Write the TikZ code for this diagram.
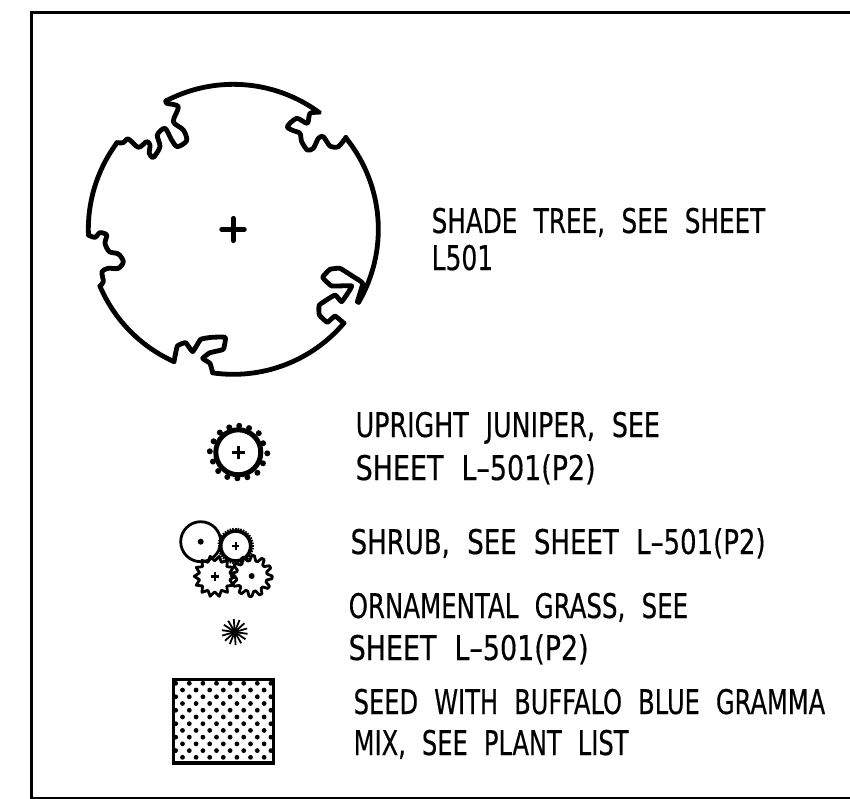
\documentclass[tikz,border=0pt]{standalone}
\usepackage{graphicx}
\usepackage{fontspec}
\newfontfamily\cadfont[FakeStretch=0.78,WordSpace=2.1,FakeBold=0.4]{DejaVu Sans}
\newcommand{\hsc}[2]{\scalebox{#1}[1]{#2}}
\tikzset{
  x=1pt,y=-1pt,
  label text/.style={anchor=base west,inner sep=0pt,font=\cadfont\fontsize{34}{34}\selectfont,text=black},
  tree line/.style={line width=4.8pt,line join=round,line cap=round},
  thin line/.style={line width=2.8pt,line join=round},
  frame line/.style={line width=3pt},
}
\newcommand{\treearc}[2]{plot[domain=#1:#2,samples=50] ({490+435*cos(\x)},{478-435*sin(\x)})}
\newcommand{\gearshape}[5]{% cx cy router rinner teeth
  \draw[thin line] plot[samples at={0,...,\numexpr4*#5-1\relax}] ({#1+(mod(\x,4)<1.5?#3:#4)*cos(\x*90/#5)},{#2+(mod(\x,4)<1.5?#3:#4)*sin(\x*90/#5)}) -- cycle;}
\newcommand{\starshape}[5]{% cx cy router rinner teeth
  \draw[thin line] plot[samples at={0,...,\numexpr2*#5-1\relax}] ({#1+(mod(\x,2)<0.5?#3:#4)*cos(\x*180/#5)},{#2+(mod(\x,2)<0.5?#3:#4)*sin(\x*180/#5)}) -- cycle;}
\begin{document}
\begin{tikzpicture}
\useasboundingbox (0,0) rectangle (850,799);
\fill[white] (0,0) rectangle (850,799);
\draw[frame line] (850,12.5) -- (31.5,12.5) -- (31.5,798) -- (850,798);
% tree
\begin{scope}[shift={(70,70)},x=0.33333pt,y=-0.33333pt,tree line]
\draw \treearc{117.6}{53.7}
 -- plot[smooth,tension=.45] coordinates {(748,127)(720,130)(712,160)(680,145)(652,170)(670,182)(690,190)(695,215)(712,240)(730,235)(745,205)(760,200)(780,228)(805,230)(828,202)};
\draw \treearc{39.2}{-30.3};
\draw plot[smooth,tension=.2] coordinates {(862,695)(878,640)(850,620)(810,595)(780,598)(758,622)(785,648)(845,648)(815,695)(795,675)(748,705)(748,735)(772,757)(795,738)(822,760)};
\draw \treearc{-40.3}{-98.2};
\draw plot[smooth,tension=.2] coordinates {(428,908)(420,880)(398,865)(420,848)(460,838)(466,802)(425,802)(392,808)(368,845)(347,818)(322,828)(312,875)};
\draw \treearc{-114.2}{-157};
\draw plot[smooth,tension=.5] coordinates {(90,648)(100,635)(96,605)(115,595)(145,595)(160,575)(145,552)(118,545)(105,520)(110,495)(90,488)(75,502)(55,495)};
\draw \treearc{182.2}{143.4};
\draw plot[smooth,tension=.5] coordinates {(140,218)(160,218)(175,207)(205,232)(230,215)(240,225)(238,250)(250,262)(270,230)(262,195)(285,175)(305,210)(322,230)(350,212)(340,180)(310,155)(325,110)(290,100)(288,92)};
\draw (455,478)--(523,478) (490,445)--(490,512);
\end{scope}
% juniper
\draw[line width=5pt] (238.3,452.3) circle (22.5);
\foreach \a/\r in {0/29,22/27,45/28,68/26.5,90/26,112/27,135/27.5,158/27,180/28.5,202/27,225/27,248/26.5,270/26.5,292/26.5,315/28,338/26.5} \fill ({238.3+\r*cos(\a+2)},{452.3+\r*sin(\a+2)}) circle (3);
\draw[line width=3.6pt] (231.5,452.3)--(245,452.3) (238.3,445.5)--(238.3,459);
% shrubs
\draw[thin line] (200.7,541.7) circle (20);
\fill (200.7,541.7) circle (3);
\draw[line width=3.6pt] (235.7,546) circle (15);
\foreach \a in {0,9,...,351} \draw[line width=1.6pt] ({235.7+14.5*cos(\a)},{546+14.5*sin(\a)})--({235.7+18.2*cos(\a)},{546+18.2*sin(\a)});
\draw[line width=2.4pt] (232,546)--(239.4,546) (235.7,542.3)--(235.7,549.7);
\starshape{214.7}{576.3}{20.5}{15.5}{14}
\draw[line width=2.4pt] (210.5,576.3)--(218.9,576.3) (214.7,572.1)--(214.7,580.5);
\gearshape{251.7}{576}{20.5}{15.5}{12}
\fill (251.7,576) circle (3);
% grass
\foreach \a in {0,26,...,156} \draw[line width=1.8pt] ({234.7+13*cos(\a+8)},{632+13*sin(\a+8)})--({234.7-13*cos(\a+8)},{632-13*sin(\a+8)});
\fill (234.7,632) circle (3);
% seed
\draw[line width=3.2pt] (173.3,679.5) rectangle (273.3,763);
\foreach \r in {0,...,11} {
  \pgfmathtruncatemacro{\odd}{mod(\r,2)}
  \pgfmathtruncatemacro{\last}{7-\odd}
  \foreach \c in {0,...,\last} {
    \pgfmathsetmacro{\dx}{175.7+\c*13.6+\odd*6.8}
    \pgfmathsetmacro{\dy}{683.3+\r*6.73}
    \fill (\dx,\dy) circle (2.4);
  }
}
% text
\node[label text] (t1) at (431.5,233) {\hsc{.93}{SHADE TREE, SEE SHEET}};
\node[label text] (t2) at (431.5,270) {\hsc{.94}{L501}};
\node[label text] (t3) at (355.5,437) {\hsc{.955}{UPRIGHT JUNIPER, SEE}};
\node[label text] (t4) at (355.5,480) {\hsc{1.015}{SHEET L–501(P2)}};
\node[label text] (t5) at (350.5,554) {\hsc{.98}{SHRUB, SEE SHEET L–501(P2)}};
\node[label text] (t6) at (348.5,618) {\hsc{.923}{ORNAMENTAL GRASS, SEE}};
\node[label text] (t7) at (348.5,660) {\hsc{1.015}{SHEET L–501(P2)}};
\node[label text] (t8) at (353.5,714) {\hsc{.91}{SEED WITH BUFFALO BLUE GRAMMA}};
\node[label text] (t9) at (353.5,755) {\hsc{.91}{MIX, SEE PLANT LIST}};
\end{tikzpicture}
\end{document}
